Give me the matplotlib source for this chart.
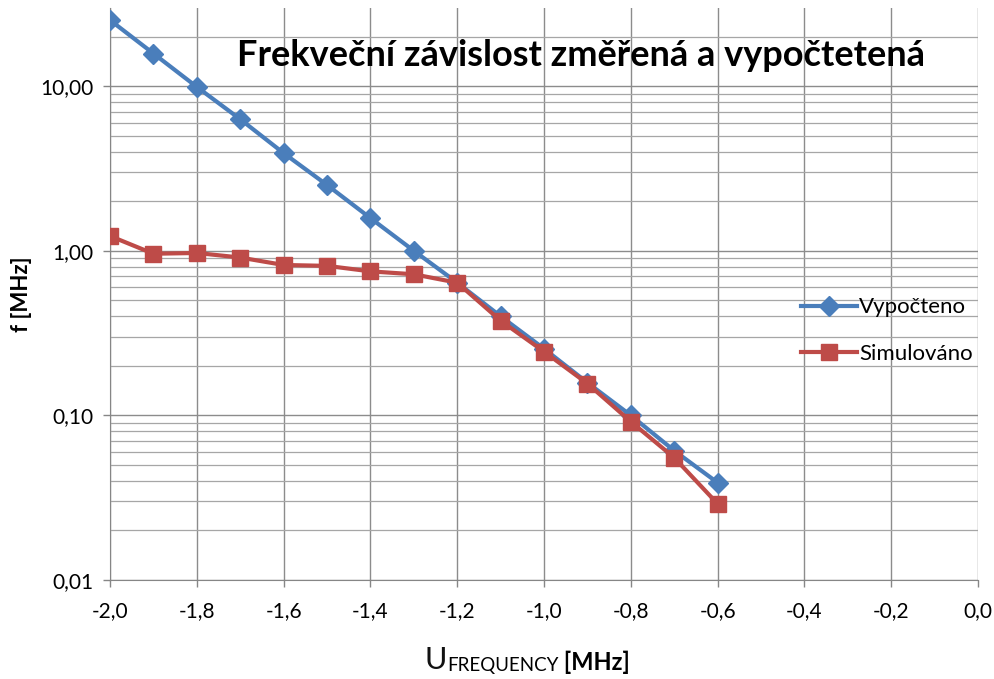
import numpy as np
import matplotlib
matplotlib.use('Agg')
import matplotlib.pyplot as plt
from matplotlib.ticker import FixedLocator, FuncFormatter, LogLocator, NullFormatter

plt.rcParams['font.family'] = ['Lato', 'DejaVu Sans']

# napětí [MHz] a frekvence [MHz]
u = [-2.0, -1.9, -1.8, -1.7, -1.6, -1.5, -1.4, -1.3, -1.2, -1.1, -1.0, -0.9, -0.8, -0.7, -0.6]
f_vypocteno = [25.2, 15.8, 9.9, 6.3, 3.92, 2.51, 1.58, 1.0, 0.64, 0.40, 0.254, 0.158, 0.100, 0.061, 0.039]
f_simulovano = [1.23, 0.96, 0.97, 0.91, 0.82, 0.81, 0.75, 0.72, 0.64, 0.376, 0.244, 0.156, 0.0916, 0.0553, 0.029]

x_ticks = [-2.0, -1.8, -1.6, -1.4, -1.2, -1.0, -0.8, -0.6, -0.4, -0.2, 0.0]
y_ticks = [0.01, 0.1, 1, 10]


def fmt_x(v, pos):
    v = round(v, 1) + 0.0  # -0.0 -> 0.0
    return f'{v:.1f}'.replace('.', ',')


fig = plt.figure(figsize=(9.94, 6.79), dpi=100)
ax = fig.add_axes([0.1107, 0.1458, 0.8733, 0.8422])

ax.plot(u, f_vypocteno, color='#4A7EBB', lw=3, marker='D', ms=10,
        label='Vypočteno', zorder=3)
ax.plot(u, f_simulovano, color='#BE4B48', lw=3, marker='s', ms=12,
        label='Simulováno', zorder=4)

ax.set_yscale('log')
ax.set_xlim(-2.0, 0.0)
ax.set_ylim(0.01, 29.8)

ax.xaxis.set_major_locator(FixedLocator(x_ticks))
ax.xaxis.set_major_formatter(FuncFormatter(fmt_x))
ax.yaxis.set_major_locator(FixedLocator(y_ticks))
ax.yaxis.set_major_formatter(FuncFormatter(lambda v, p: f'{v:.2f}'.replace('.', ',')))
ax.yaxis.set_minor_locator(LogLocator(base=10, subs=np.arange(2, 10)))
ax.yaxis.set_minor_formatter(NullFormatter())

ax.grid(True, which='major', color='#8C8C8C', lw=1.0)
ax.grid(True, which='minor', axis='y', color='#A6A6A6', lw=0.9)
ax.set_axisbelow(True)

ax.tick_params(axis='both', which='major', direction='out', length=5, width=1,
               color='#868686', labelsize=15, pad=7)
ax.tick_params(axis='x', pad=10)
ax.tick_params(axis='y', which='minor', length=0)
for s in ['top', 'right']:
    ax.spines[s].set_visible(False)
for s in ['left', 'bottom']:
    ax.spines[s].set_color('#868686')

ax.text(0.543, 0.918, 'Frekveční závislost změřená a vypočtetená', transform=ax.transAxes,
        ha='center', va='center', fontsize=26, fontweight='bold')

ax.set_ylabel('f [MHz]', fontsize=16, fontweight='bold', labelpad=6)

# popisek osy x s indexem
t1 = fig.text(0.427, 0.015, 'U', fontsize=22, color='#111111')
t2 = ax.annotate('FREQUENCY', xy=(1, 0), xycoords=t1, fontsize=13.5, va='bottom')
ax.annotate(' [MHz]', xy=(1, 0), xycoords=t2, fontsize=17, fontweight='bold', va='bottom')

ax.legend(loc='center left', bbox_to_anchor=(0.773, 0.436), frameon=False, fontsize=16,
          handlelength=2.5, handletextpad=0.1, labelspacing=1.2)

fig.savefig('out.png', dpi=100)
